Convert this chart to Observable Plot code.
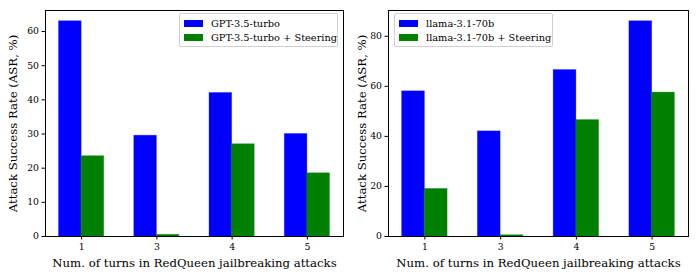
<!DOCTYPE html>
<html>
<head>
<meta charset="utf-8">
<script src="https://cdn.jsdelivr.net/npm/d3@7"></script>
<script src="https://cdn.jsdelivr.net/npm/@observablehq/plot@0.6"></script>
<style>
  html, body { margin: 0; padding: 0; background: #fff; }
  #wrap { display: flex; width: 698px; height: 279px; }
  .panel { position: relative; width: 349px; height: 279px; }
  .legend { position: absolute; box-sizing: border-box; border: 1px solid #d0d0d0; border-radius: 2px;
    background: rgba(255,255,255,0.8); font-family: "DejaVu Serif", serif; font-size: 9.8px; color: #000; }
  .row { position: absolute; left: 4px; display: flex; align-items: center; height: 12px; white-space: nowrap; }
  .sw { width: 19px; height: 7px; margin-right: 8px; flex: none; }
</style>
</head>
<body>
<div id="wrap"></div>
<script>
const turns = ["1", "3", "4", "5"];
const gptBase = [63, 29.5, 42, 30];
const gptSteer = [23.5, 0.5, 27, 18.5];
const llamaBase = [58, 42, 66.5, 86];
const llamaSteer = [19, 0.5, 46.5, 57.5];
const leftLabels = ["GPT-3.5-turbo", "GPT-3.5-turbo + Steering"];
const rightLabels = ["llama-3.1-70b", "llama-3.1-70b + Steering"];
const yLeftTicks = [0, 10, 20, 30, 40, 50, 60];
const yRightTicks = [0, 20, 40, 60, 80];
const colors = ["#0000ff", "#008000"];
const barWidth = 0.3;

function panel(base, steer, labels, yTicks, ml, mr, legendLeft) {
  const rows = [];
  turns.forEach((t, i) => {
    rows.push({i, s: 0, v: base[i], x1: i - barWidth, x2: i});
    rows.push({i, s: 1, v: steer[i], x1: i, x2: i + barWidth});
  });
  const ymax = d3.max(rows, d => d.v) * 1.05;
  const chart = Plot.plot({
    width: 349, height: 279,
    marginLeft: ml, marginRight: mr, marginTop: 10, marginBottom: 43,
    style: {fontFamily: "DejaVu Serif", fontSize: "9.3px", color: "#000", background: "#fff"},
    x: {domain: [-0.48, 3.48], ticks: [0, 1, 2, 3], tickFormat: i => turns[i]},
    y: {domain: [0, ymax], ticks: yTicks},
    marks: [
      Plot.rect(rows, {x1: "x1", x2: "x2", y1: 0, y2: "v", fill: d => colors[d.s], stroke: d => colors[d.s], strokeOpacity: 0.4, strokeWidth: 0.8}),
      Plot.axisX({ticks: [0, 1, 2, 3], tickFormat: i => turns[i], tickSize: 3.5, tickPadding: 3,
        label: "Num. of turns in RedQueen jailbreaking attacks", labelAnchor: "center", labelArrow: "none", labelOffset: 30}),
      Plot.axisY({ticks: yTicks, tickSize: 3.5, tickPadding: 3,
        label: "Attack Success Rate (ASR, %)", labelAnchor: "center", labelArrow: "none", labelOffset: ml - 8}),
      Plot.frame({stroke: "#000", strokeWidth: 1})
    ]
  });
  chart.querySelectorAll("g[aria-label='x-axis label'] text, g[aria-label='y-axis label'] text").forEach(t => {
    t.style.fontSize = "11.7px";
  });
  const div = document.createElement("div");
  div.className = "panel";
  div.appendChild(chart);
  const lg = document.createElement("div");
  lg.className = "legend";
  lg.style.left = legendLeft + "px";
  lg.style.top = "13px";
  lg.style.width = "159px";
  lg.style.height = "34px";
  labels.forEach((lab, k) => {
    const r = document.createElement("div");
    r.className = "row";
    r.style.top = (k === 0 ? 3.5 : 17.5) + "px";
    const sw = document.createElement("div");
    sw.className = "sw";
    sw.style.background = colors[k];
    const tx = document.createElement("span");
    tx.textContent = lab;
    r.appendChild(sw); r.appendChild(tx);
    lg.appendChild(r);
  });
  div.appendChild(lg);
  return div;
}

const wrap = document.getElementById("wrap");
wrap.appendChild(panel(gptBase, gptSteer, leftLabels, yLeftTicks, 45, 6, 179));
wrap.appendChild(panel(llamaBase, llamaSteer, rightLabels, yRightTicks, 39, 10, 45));
</script>
</body>
</html>
